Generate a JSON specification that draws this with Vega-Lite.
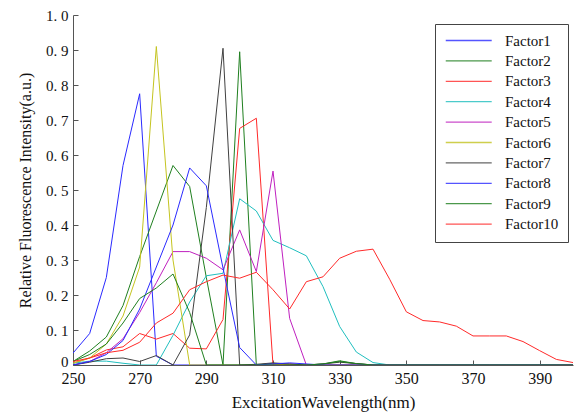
{
  "$schema": "https://vega.github.io/schema/vega-lite/v6.json",
  "width": 500,
  "height": 350,
  "autosize": "none",
  "padding": {"left": 73, "top": 15, "right": 1, "bottom": 50},
  "config": {"font": "Liberation Serif", "view": {"stroke": null}, "background": "white"},
  "data": {"values": [
    {"wl":250,"Factor1":0.034,"Factor2":0.01,"Factor3":0.005,"Factor4":0.005,"Factor5":0.0,"Factor6":0.005,"Factor7":0.0,"Factor8":0.0,"Factor9":0.01,"Factor10":0.01},
    {"wl":255,"Factor1":0.09,"Factor2":0.04,"Factor3":0.02,"Factor4":0.011,"Factor5":0.01,"Factor6":0.02,"Factor7":0.008,"Factor8":0.01,"Factor9":0.03,"Factor10":0.02},
    {"wl":260,"Factor1":0.25,"Factor2":0.08,"Factor3":0.043,"Factor4":0.011,"Factor5":0.035,"Factor6":0.06,"Factor7":0.018,"Factor8":0.03,"Factor9":0.06,"Factor10":0.035},
    {"wl":265,"Factor1":0.57,"Factor2":0.17,"Factor3":0.052,"Factor4":0.005,"Factor5":0.075,"Factor6":0.14,"Factor7":0.02,"Factor8":0.07,"Factor9":0.12,"Factor10":0.042},
    {"wl":270,"Factor1":0.775,"Factor2":0.31,"Factor3":0.09,"Factor4":0.0,"Factor5":0.15,"Factor6":0.28,"Factor7":0.01,"Factor8":0.16,"Factor9":0.19,"Factor10":0.065},
    {"wl":275,"Factor1":0.025,"Factor2":0.44,"Factor3":0.074,"Factor4":0.0,"Factor5":0.235,"Factor6":0.91,"Factor7":0.027,"Factor8":0.28,"Factor9":0.22,"Factor10":0.12},
    {"wl":280,"Factor1":0.0,"Factor2":0.57,"Factor3":0.09,"Factor4":0.085,"Factor5":0.324,"Factor6":0.3,"Factor7":0.0,"Factor8":0.40,"Factor9":0.26,"Factor10":0.148},
    {"wl":285,"Factor1":0.0,"Factor2":0.51,"Factor3":0.048,"Factor4":0.18,"Factor5":0.324,"Factor6":0.0,"Factor7":0.086,"Factor8":0.563,"Factor9":0.15,"Factor10":0.215},
    {"wl":290,"Factor1":0.0,"Factor2":0.25,"Factor3":0.046,"Factor4":0.255,"Factor5":0.305,"Factor6":0.0,"Factor7":0.45,"Factor8":0.512,"Factor9":0.0,"Factor10":0.238},
    {"wl":295,"Factor1":0.0,"Factor2":0.0,"Factor3":0.13,"Factor4":0.262,"Factor5":0.272,"Factor6":0.0,"Factor7":0.905,"Factor8":0.277,"Factor9":0.0,"Factor10":0.257},
    {"wl":300,"Factor1":0.0,"Factor2":0.895,"Factor3":0.676,"Factor4":0.475,"Factor5":0.386,"Factor6":0.0,"Factor7":0.0,"Factor8":0.05,"Factor9":0.0,"Factor10":0.248},
    {"wl":305,"Factor1":0.0,"Factor2":0.0,"Factor3":0.705,"Factor4":0.44,"Factor5":0.267,"Factor6":0.0,"Factor7":0.002,"Factor8":0.0,"Factor9":0.0,"Factor10":0.265},
    {"wl":310,"Factor1":0.0,"Factor2":0.005,"Factor3":0.0,"Factor4":0.356,"Factor5":0.554,"Factor6":0.0,"Factor7":0.006,"Factor8":0.003,"Factor9":0.0,"Factor10":0.215},
    {"wl":315,"Factor1":0.0,"Factor2":0.0,"Factor3":0.003,"Factor4":0.335,"Factor5":0.133,"Factor6":0.0,"Factor7":0.003,"Factor8":0.006,"Factor9":0.0,"Factor10":0.16},
    {"wl":320,"Factor1":0.0,"Factor2":0.0,"Factor3":0.0,"Factor4":0.312,"Factor5":0.0,"Factor6":0.0,"Factor7":0.0,"Factor8":0.003,"Factor9":0.0,"Factor10":0.238},
    {"wl":325,"Factor1":0.0,"Factor2":0.003,"Factor3":0.0,"Factor4":0.224,"Factor5":0.0,"Factor6":0.0,"Factor7":0.003,"Factor8":0.0,"Factor9":0.003,"Factor10":0.252},
    {"wl":330,"Factor1":0.0,"Factor2":0.012,"Factor3":0.0,"Factor4":0.11,"Factor5":0.0,"Factor6":0.0,"Factor7":0.008,"Factor8":0.0,"Factor9":0.01,"Factor10":0.305},
    {"wl":335,"Factor1":0.0,"Factor2":0.004,"Factor3":0.0,"Factor4":0.037,"Factor5":0.0,"Factor6":0.0,"Factor7":0.004,"Factor8":0.0,"Factor9":0.004,"Factor10":0.325},
    {"wl":340,"Factor1":0.0,"Factor2":0.0,"Factor3":0.0,"Factor4":0.007,"Factor5":0.0,"Factor6":0.0,"Factor7":0.0,"Factor8":0.0,"Factor9":0.0,"Factor10":0.331},
    {"wl":345,"Factor1":0.0,"Factor2":0.0,"Factor3":0.0,"Factor4":0.0,"Factor5":0.0,"Factor6":0.0,"Factor7":0.0,"Factor8":0.0,"Factor9":0.0,"Factor10":0.245},
    {"wl":350,"Factor1":0.0,"Factor2":0.0,"Factor3":0.0,"Factor4":0.0,"Factor5":0.0,"Factor6":0.0,"Factor7":0.0,"Factor8":0.0,"Factor9":0.0,"Factor10":0.152},
    {"wl":355,"Factor1":0.0,"Factor2":0.0,"Factor3":0.0,"Factor4":0.0,"Factor5":0.0,"Factor6":0.0,"Factor7":0.0,"Factor8":0.0,"Factor9":0.0,"Factor10":0.127},
    {"wl":360,"Factor1":0.0,"Factor2":0.0,"Factor3":0.0,"Factor4":0.0,"Factor5":0.0,"Factor6":0.0,"Factor7":0.0,"Factor8":0.0,"Factor9":0.0,"Factor10":0.123},
    {"wl":365,"Factor1":0.0,"Factor2":0.0,"Factor3":0.0,"Factor4":0.0,"Factor5":0.0,"Factor6":0.0,"Factor7":0.0,"Factor8":0.0,"Factor9":0.0,"Factor10":0.111},
    {"wl":370,"Factor1":0.0,"Factor2":0.0,"Factor3":0.0,"Factor4":0.0,"Factor5":0.0,"Factor6":0.0,"Factor7":0.0,"Factor8":0.0,"Factor9":0.0,"Factor10":0.083},
    {"wl":375,"Factor1":0.0,"Factor2":0.0,"Factor3":0.0,"Factor4":0.0,"Factor5":0.0,"Factor6":0.0,"Factor7":0.0,"Factor8":0.0,"Factor9":0.0,"Factor10":0.083},
    {"wl":380,"Factor1":0.0,"Factor2":0.0,"Factor3":0.0,"Factor4":0.0,"Factor5":0.0,"Factor6":0.0,"Factor7":0.0,"Factor8":0.0,"Factor9":0.0,"Factor10":0.083},
    {"wl":385,"Factor1":0.0,"Factor2":0.0,"Factor3":0.0,"Factor4":0.0,"Factor5":0.0,"Factor6":0.0,"Factor7":0.0,"Factor8":0.0,"Factor9":0.0,"Factor10":0.067},
    {"wl":390,"Factor1":0.0,"Factor2":0.0,"Factor3":0.0,"Factor4":0.0,"Factor5":0.0,"Factor6":0.0,"Factor7":0.0,"Factor8":0.0,"Factor9":0.0,"Factor10":0.041},
    {"wl":395,"Factor1":0.0,"Factor2":0.0,"Factor3":0.0,"Factor4":0.0,"Factor5":0.0,"Factor6":0.0,"Factor7":0.0,"Factor8":0.0,"Factor9":0.0,"Factor10":0.016},
    {"wl":400,"Factor1":0.0,"Factor2":0.0,"Factor3":0.0,"Factor4":0.0,"Factor5":0.0,"Factor6":0.0,"Factor7":0.0,"Factor8":0.0,"Factor9":0.0,"Factor10":0.007}
  ]},
  "transform": [
    {"fold": ["Factor1","Factor2","Factor3","Factor4","Factor5","Factor6","Factor7","Factor8","Factor9","Factor10"], "as": ["factor","value"]}
  ],
  "mark": {"type": "line", "strokeWidth": 1, "clip": true},
  "encoding": {
    "x": {
      "field": "wl", "type": "quantitative",
      "scale": {"domain": [250, 400], "nice": false, "zero": false},
      "axis": {
        "title": "ExcitationWavelength(nm)",
        "values": [250,270,290,310,330,350,370,390],
        "grid": false,
        "labelFlush": false,
        "domainColor": "#555", "tickColor": "#555",
        "tickSize": -5, "labelPadding": 10,
        "labelFontSize": 16, "labelColor": "#111", "labelFont": "Liberation Serif",
        "titleFontSize": 17, "titleFontWeight": "normal", "titleColor": "#111", "titleFont": "Liberation Serif",
        "titlePadding": 8
      }
    },
    "y": {
      "field": "value", "type": "quantitative",
      "scale": {"domain": [0, 1], "nice": false},
      "axis": {
        "title": "Relative Fluorescence Intensity(a.u.)",
        "values": [0,0.1,0.2,0.3,0.4,0.5,0.6,0.7,0.8,0.9,1.0],
        "labelExpr": "datum.value == 0 ? '0' : replace(format(datum.value, '.1f'), '.', '. ')",
        "labelOffset": {"condition": {"test": "datum.value == 0", "value": -4}, "value": 0},
        "grid": false,
        "labelFlush": false,
        "domainColor": "#555", "tickColor": "#555",
        "tickSize": -5, "labelPadding": 10,
        "labelFontSize": 15, "labelColor": "#111", "labelFont": "Liberation Serif",
        "titleFontSize": 16, "titleFontWeight": "normal", "titleColor": "#111", "titleFont": "Liberation Serif",
        "titlePadding": 12
      }
    },
    "color": {
      "field": "factor", "type": "nominal",
      "scale": {
        "domain": ["Factor1","Factor2","Factor3","Factor4","Factor5","Factor6","Factor7","Factor8","Factor9","Factor10"],
        "range": ["#2a2aff","#1f7f1f","#ff2a2a","#20bfbf","#bf20bf","#c4c420","#404040","#2a2aff","#1f7f1f","#ff2a2a"]
      },
      "legend": {
        "title": null,
        "orient": "none",
        "legendX": 362,
        "legendY": 9,
        "symbolType": "M-1,0H7",
        "symbolSize": 132,
        "symbolStrokeWidth": 1.3,
        "labelFontSize": 15,
        "labelFont": "Liberation Serif",
        "labelColor": "#111",
        "labelOffset": 46,
        "rowPadding": 4.4,
        "padding": 9,
        "strokeColor": "#444",
        "fillColor": "white",
        "encode": {
          "symbols": {
            "update": {
              "stroke": {"scale": "color", "field": "value"},
              "fill": {"value": "transparent"},
              "opacity": {"value": 0.8}
            }
          }
        }
      }
    }
  }
}
